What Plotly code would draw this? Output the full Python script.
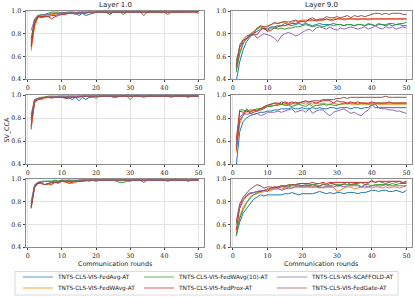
import plotly.graph_objects as go

rounds = list(range(1, 51))

series_names = ["TNTS-CLS-VIS-FedAvg-AT", "TNTS-CLS-VIS-FedWAvg-AT", "TNTS-CLS-VIS-FedWAvg(10)-AT",
                "TNTS-CLS-VIS-FedProx-AT", "TNTS-CLS-VIS-SCAFFOLD-AT", "TNTS-CLS-VIS-FedGate-AT"]
colors = ["#1f77b4", "#ff7f0e", "#2ca02c", "#d62728", "#9467bd", "#8c564b"]
col_titles = ["Layer 1.0", "Layer 9.0"]
x_ticks = [0, 10, 20, 30, 40, 50]
y_ticks = [0.4, 0.6, 0.8, 1.0]

# ---- Layer 1.0, row 1
l1_r1_fedavg = [0.70,0.88,0.95,0.95,0.96,0.97,0.97,0.98,0.98,0.98,0.98,0.985,0.98,0.98,0.96,0.98,0.96,0.97,0.98,0.99,0.99,0.99,0.99,0.97,0.99,0.99,0.99,0.99,0.99,0.99,0.99,0.995,0.99,0.99,0.99,0.995,0.99,0.99,0.995,0.99,0.995,0.99,0.995,0.995,0.99,0.995,0.995,0.995,0.995,0.995]
l1_r1_fedwavg = [0.65,0.86,0.94,0.95,0.95,0.96,0.97,0.97,0.98,0.98,0.98,0.98,0.99,0.98,0.99,0.98,0.99,0.99,0.98,0.99,0.99,0.99,0.99,0.99,0.99,0.99,0.99,0.99,0.99,0.99,0.99,0.99,0.995,0.99,0.99,0.99,0.995,0.99,0.99,0.995,0.99,0.995,0.99,0.995,0.995,0.99,0.995,0.995,0.995,0.995]
l1_r1_fedwavg10 = [0.72,0.90,0.96,0.97,0.97,0.98,0.99,0.99,0.99,0.98,0.99,0.99,0.99,0.99,0.99,0.99,0.99,0.99,0.99,0.99,0.99,0.99,0.99,0.97,0.99,0.99,0.99,0.97,0.99,0.99,0.99,0.99,0.99,0.99,0.995,0.99,0.99,0.99,0.99,0.995,0.99,0.99,0.995,0.99,0.995,0.995,0.99,0.995,0.995,0.995]
l1_r1_fedprox = [0.68,0.89,0.95,0.95,0.95,0.95,0.93,0.95,0.96,0.97,0.97,0.98,0.98,0.98,0.98,0.99,0.98,0.99,0.99,0.99,0.99,0.99,0.99,0.99,0.99,0.99,0.99,0.99,0.99,0.99,0.99,0.99,0.99,0.99,0.99,0.99,0.99,0.99,0.99,0.99,0.99,0.99,0.99,0.99,0.99,0.99,0.99,0.985,0.99,0.98]
l1_r1_scaffold = [0.83,0.92,0.96,0.96,0.97,0.97,0.98,0.98,0.98,0.99,0.98,0.99,0.99,0.98,0.99,0.99,0.99,0.99,0.99,0.99,0.99,0.99,0.99,0.99,0.99,0.99,0.99,0.99,0.99,0.99,0.99,0.99,0.99,0.995,0.99,0.99,0.99,0.995,0.99,0.99,0.995,0.99,0.99,0.995,0.99,0.995,0.995,0.995,0.995,0.995]
l1_r1_fedgate = [0.75,0.93,0.96,0.94,0.95,0.95,0.96,0.96,0.97,0.97,0.98,0.98,0.98,0.97,0.98,0.98,0.98,0.99,0.98,0.99,0.99,0.99,0.99,0.99,0.99,0.99,0.99,0.99,0.99,0.99,0.99,0.99,0.99,0.96,0.99,0.99,0.99,0.99,0.99,0.99,0.97,0.99,0.99,0.99,0.99,0.99,0.99,0.99,0.995,0.995]

# ---- Layer 1.0, row 2
l1_r2_fedavg = [0.70,0.95,0.97,0.97,0.98,0.98,0.98,0.98,0.98,0.98,0.98,0.98,0.96,0.98,0.95,0.98,0.96,0.98,0.98,0.99,0.99,0.99,0.99,0.99,0.99,0.99,0.99,0.99,0.99,0.99,0.99,0.99,0.99,0.99,0.995,0.99,0.99,0.99,0.995,0.99,0.99,0.995,0.99,0.99,0.995,0.99,0.99,0.995,0.99,0.995]
l1_r2_fedwavg = [0.72,0.93,0.96,0.96,0.97,0.98,0.97,0.98,0.98,0.98,0.98,0.99,0.98,0.98,0.99,0.98,0.99,0.99,0.99,0.99,0.99,0.99,0.99,0.99,0.99,0.99,0.99,0.99,0.99,0.99,0.99,0.99,0.99,0.99,0.99,0.995,0.99,0.99,0.99,0.995,0.99,0.99,0.99,0.995,0.99,0.99,0.99,0.99,0.995,0.99]
l1_r2_fedwavg10 = [0.80,0.96,0.97,0.98,0.98,0.99,0.99,0.99,0.99,0.99,0.99,0.99,0.99,0.99,0.99,0.99,0.99,0.98,0.99,0.97,0.99,0.99,0.99,0.99,0.98,0.98,0.99,0.99,0.99,0.96,0.99,0.99,0.99,0.99,0.99,0.99,0.99,0.99,0.99,0.99,0.99,0.99,0.99,0.99,0.99,0.99,0.99,0.99,0.99,0.99]
l1_r2_fedprox = [0.73,0.94,0.96,0.97,0.98,0.98,0.98,0.98,0.98,0.98,0.98,0.98,0.99,0.98,0.99,0.99,0.99,0.99,0.99,0.99,0.99,0.99,0.99,0.99,0.99,0.99,0.99,0.99,0.99,0.99,0.99,0.99,0.99,0.99,0.99,0.99,0.99,0.99,0.99,0.99,0.99,0.99,0.99,0.99,0.99,0.99,0.98,0.99,0.99,0.985]
l1_r2_scaffold = [0.83,0.96,0.97,0.98,0.98,0.98,0.99,0.98,0.99,0.99,0.99,0.99,0.99,0.99,0.99,0.99,0.99,0.99,0.99,0.99,0.99,0.99,0.99,0.99,0.99,0.99,0.99,0.99,0.99,0.99,0.99,0.99,0.99,0.99,0.99,0.99,0.99,0.99,0.99,0.99,0.99,0.99,0.99,0.99,0.99,0.99,0.99,0.99,0.99,0.99]
l1_r2_fedgate = [0.78,0.95,0.97,0.97,0.98,0.98,0.98,0.98,0.98,0.98,0.97,0.97,0.98,0.98,0.98,0.99,0.99,0.99,0.99,0.99,0.99,0.99,0.99,0.99,0.99,0.99,0.99,0.99,0.99,0.99,0.99,0.99,0.99,0.98,0.99,0.99,0.99,0.99,0.99,0.99,0.99,0.98,0.99,0.99,0.99,0.99,0.99,0.99,0.99,0.99]

# ---- Layer 1.0, row 3
l1_r3_fedavg = [0.76,0.93,0.97,0.97,0.98,0.98,0.98,0.98,0.98,0.99,0.98,0.99,0.98,0.98,0.99,0.99,0.99,0.99,0.99,0.98,0.99,0.99,0.99,0.99,0.99,0.99,0.99,0.99,0.99,0.99,0.99,0.99,0.99,0.99,0.99,0.99,0.99,0.99,0.99,0.99,0.99,0.99,0.99,0.99,0.99,0.99,0.99,0.99,0.99,0.99]
l1_r3_fedwavg = [0.75,0.92,0.96,0.96,0.95,0.95,0.96,0.97,0.97,0.98,0.97,0.97,0.96,0.97,0.98,0.98,0.98,0.99,0.99,0.99,0.99,0.99,0.99,0.99,0.99,0.99,0.99,0.99,0.99,0.99,0.99,0.99,0.99,0.99,0.99,0.99,0.99,0.99,0.99,0.99,0.99,0.99,0.99,0.99,0.99,0.99,0.99,0.99,0.99,0.99]
l1_r3_fedwavg10 = [0.78,0.94,0.97,0.98,0.98,0.98,0.98,0.99,0.98,0.99,0.99,0.99,0.99,0.99,0.99,0.99,0.99,0.99,0.99,0.99,0.99,0.99,0.99,0.99,0.99,0.98,0.97,0.97,0.98,0.98,0.99,0.99,0.99,0.99,0.99,0.99,0.99,0.99,0.99,0.99,0.99,0.99,0.99,0.99,0.99,0.99,0.99,0.99,0.99,0.99]
l1_r3_fedprox = [0.75,0.93,0.96,0.96,0.95,0.96,0.95,0.97,0.97,0.98,0.98,0.96,0.97,0.98,0.98,0.98,0.99,0.99,0.99,0.99,0.99,0.99,0.99,0.99,0.99,0.99,0.99,0.99,0.99,0.99,0.99,0.99,0.99,0.99,0.99,0.99,0.99,0.99,0.99,0.99,0.99,0.99,0.99,0.99,0.99,0.99,0.98,0.99,0.99,0.99]
l1_r3_scaffold = [0.80,0.95,0.97,0.96,0.95,0.96,0.97,0.97,0.96,0.98,0.98,0.98,0.98,0.98,0.99,0.99,0.99,0.99,0.99,0.99,0.99,0.99,0.99,0.99,0.99,0.99,0.99,0.99,0.99,0.99,0.99,0.99,0.99,0.99,0.99,0.99,0.99,0.99,0.99,0.99,0.99,0.99,0.99,0.99,0.99,0.99,0.99,0.99,0.99,0.99]
l1_r3_fedgate = [0.74,0.93,0.97,0.97,0.95,0.96,0.97,0.97,0.98,0.98,0.98,0.98,0.98,0.98,0.98,0.99,0.99,0.98,0.99,0.99,0.99,0.99,0.99,0.99,0.99,0.99,0.99,0.99,0.99,0.99,0.99,0.99,0.99,0.97,0.99,0.99,0.99,0.99,0.99,0.99,0.98,0.99,0.99,0.99,0.99,0.99,0.99,0.99,0.99,0.99]

# ---- Layer 9.0, row 1
l9_r1_fedavg = [0.38,0.55,0.66,0.73,0.77,0.80,0.82,0.84,0.85,0.84,0.86,0.86,0.87,0.87,0.89,0.88,0.87,0.88,0.89,0.88,0.89,0.88,0.87,0.88,0.89,0.88,0.88,0.88,0.89,0.88,0.88,0.87,0.88,0.88,0.87,0.88,0.88,0.87,0.88,0.88,0.87,0.88,0.88,0.87,0.88,0.87,0.88,0.88,0.87,0.87]
l9_r1_fedwavg = [0.48,0.64,0.72,0.76,0.80,0.82,0.84,0.86,0.86,0.87,0.88,0.89,0.89,0.90,0.90,0.91,0.90,0.91,0.91,0.92,0.92,0.92,0.92,0.91,0.92,0.92,0.93,0.92,0.93,0.93,0.93,0.92,0.93,0.93,0.93,0.92,0.93,0.93,0.92,0.93,0.93,0.93,0.93,0.93,0.93,0.93,0.93,0.93,0.93,0.93]
l9_r1_fedwavg10 = [0.46,0.62,0.71,0.76,0.79,0.81,0.84,0.86,0.84,0.83,0.85,0.85,0.84,0.85,0.84,0.85,0.85,0.86,0.86,0.87,0.88,0.87,0.86,0.87,0.87,0.86,0.87,0.88,0.87,0.88,0.88,0.87,0.88,0.88,0.87,0.88,0.88,0.87,0.89,0.88,0.87,0.89,0.88,0.88,0.89,0.89,0.88,0.89,0.89,0.90]
l9_r1_fedprox = [0.52,0.68,0.74,0.76,0.78,0.79,0.79,0.83,0.85,0.82,0.83,0.85,0.86,0.87,0.87,0.88,0.89,0.89,0.90,0.91,0.91,0.92,0.92,0.92,0.92,0.92,0.93,0.92,0.92,0.93,0.93,0.93,0.93,0.93,0.93,0.93,0.93,0.93,0.93,0.93,0.93,0.93,0.93,0.93,0.93,0.93,0.93,0.93,0.93,0.93]
l9_r1_scaffold = [0.56,0.68,0.72,0.75,0.78,0.80,0.76,0.78,0.80,0.79,0.78,0.76,0.73,0.78,0.80,0.81,0.80,0.78,0.79,0.81,0.83,0.84,0.82,0.85,0.86,0.85,0.84,0.86,0.84,0.83,0.85,0.84,0.85,0.86,0.85,0.84,0.85,0.86,0.84,0.85,0.87,0.85,0.84,0.86,0.85,0.86,0.84,0.85,0.86,0.85]
l9_r1_fedgate = [0.50,0.70,0.75,0.78,0.79,0.80,0.85,0.87,0.86,0.86,0.88,0.90,0.89,0.90,0.91,0.89,0.91,0.92,0.91,0.91,0.90,0.93,0.94,0.92,0.93,0.93,0.95,0.94,0.94,0.95,0.94,0.95,0.96,0.94,0.96,0.95,0.96,0.95,0.96,0.97,0.98,0.98,0.97,0.98,0.97,0.98,0.98,0.98,0.97,0.97]

# ---- Layer 9.0, row 2
l9_r2_fedavg = [0.38,0.68,0.77,0.80,0.82,0.83,0.84,0.85,0.85,0.86,0.86,0.87,0.87,0.88,0.88,0.88,0.89,0.88,0.88,0.89,0.88,0.88,0.89,0.88,0.89,0.88,0.88,0.89,0.89,0.88,0.89,0.89,0.89,0.88,0.89,0.89,0.88,0.89,0.89,0.92,0.89,0.89,0.89,0.89,0.89,0.89,0.89,0.89,0.89,0.89]
l9_r2_fedwavg = [0.50,0.75,0.83,0.85,0.86,0.86,0.87,0.88,0.89,0.90,0.91,0.91,0.92,0.92,0.92,0.92,0.93,0.92,0.93,0.93,0.92,0.93,0.92,0.93,0.92,0.93,0.92,0.92,0.93,0.92,0.92,0.92,0.93,0.92,0.92,0.92,0.92,0.92,0.92,0.92,0.92,0.92,0.92,0.92,0.92,0.92,0.92,0.92,0.92,0.92]
l9_r2_fedwavg10 = [0.55,0.87,0.87,0.86,0.87,0.87,0.88,0.88,0.89,0.90,0.90,0.91,0.91,0.92,0.91,0.91,0.90,0.91,0.92,0.91,0.90,0.92,0.90,0.91,0.91,0.92,0.91,0.92,0.91,0.91,0.92,0.93,0.92,0.93,0.93,0.92,0.93,0.93,0.92,0.93,0.93,0.93,0.93,0.93,0.93,0.93,0.93,0.93,0.93,0.93]
l9_r2_fedprox = [0.61,0.86,0.85,0.86,0.85,0.87,0.86,0.88,0.90,0.91,0.92,0.93,0.93,0.92,0.94,0.93,0.94,0.93,0.93,0.94,0.95,0.94,0.94,0.93,0.94,0.95,0.95,0.95,0.93,0.95,0.94,0.94,0.93,0.94,0.93,0.94,0.93,0.93,0.93,0.94,0.93,0.93,0.93,0.93,0.94,0.93,0.93,0.93,0.93,0.93]
l9_r2_scaffold = [0.56,0.80,0.84,0.83,0.84,0.83,0.84,0.82,0.83,0.85,0.85,0.85,0.86,0.85,0.86,0.87,0.88,0.85,0.86,0.87,0.85,0.88,0.84,0.86,0.87,0.87,0.84,0.82,0.85,0.86,0.87,0.88,0.86,0.84,0.85,0.83,0.82,0.85,0.87,0.91,0.92,0.89,0.88,0.88,0.87,0.87,0.86,0.86,0.85,0.84]
l9_r2_fedgate = [0.52,0.78,0.82,0.88,0.84,0.85,0.86,0.87,0.88,0.91,0.92,0.93,0.92,0.94,0.93,0.92,0.92,0.94,0.93,0.94,0.94,0.94,0.95,0.95,0.95,0.96,0.96,0.96,0.96,0.97,0.97,0.98,0.97,0.98,0.98,0.98,0.98,0.98,0.98,0.98,0.98,0.98,0.98,0.99,0.98,0.98,0.98,0.98,0.98,0.98]

# ---- Layer 9.0, row 3
l9_r3_fedavg = [0.50,0.62,0.70,0.74,0.79,0.82,0.84,0.86,0.85,0.86,0.86,0.86,0.86,0.86,0.87,0.87,0.88,0.87,0.86,0.87,0.87,0.87,0.87,0.88,0.89,0.88,0.87,0.88,0.87,0.88,0.88,0.87,0.88,0.88,0.88,0.87,0.88,0.88,0.89,0.90,0.90,0.89,0.90,0.90,0.89,0.89,0.90,0.89,0.88,0.90]
l9_r3_fedwavg = [0.53,0.67,0.75,0.80,0.84,0.86,0.87,0.88,0.89,0.90,0.90,0.91,0.91,0.91,0.92,0.92,0.92,0.93,0.93,0.93,0.93,0.93,0.93,0.93,0.93,0.92,0.93,0.93,0.93,0.89,0.90,0.92,0.93,0.93,0.91,0.92,0.93,0.92,0.93,0.92,0.93,0.93,0.92,0.93,0.92,0.93,0.93,0.92,0.93,0.94]
l9_r3_fedwavg10 = [0.50,0.65,0.73,0.79,0.83,0.86,0.88,0.89,0.90,0.91,0.92,0.93,0.92,0.93,0.93,0.93,0.94,0.94,0.94,0.94,0.94,0.95,0.95,0.95,0.94,0.95,0.95,0.94,0.95,0.95,0.95,0.95,0.95,0.95,0.95,0.95,0.93,0.95,0.95,0.94,0.95,0.95,0.95,0.95,0.95,0.96,0.95,0.96,0.96,0.96]
l9_r3_fedprox = [0.55,0.74,0.81,0.85,0.87,0.88,0.89,0.89,0.90,0.89,0.92,0.93,0.93,0.94,0.94,0.94,0.95,0.95,0.96,0.96,0.96,0.96,0.97,0.96,0.96,0.97,0.96,0.97,0.97,0.97,0.97,0.97,0.97,0.97,0.97,0.97,0.97,0.97,0.97,0.98,0.97,0.98,0.98,0.98,0.98,0.98,0.98,0.98,0.97,0.98]
l9_r3_scaffold = [0.60,0.76,0.82,0.86,0.88,0.88,0.89,0.90,0.90,0.91,0.91,0.92,0.92,0.90,0.91,0.92,0.92,0.93,0.93,0.93,0.93,0.93,0.93,0.93,0.92,0.93,0.93,0.93,0.93,0.94,0.94,0.93,0.94,0.94,0.94,0.94,0.93,0.94,0.93,0.94,0.94,0.94,0.94,0.95,0.94,0.94,0.94,0.94,0.94,0.94]
l9_r3_fedgate = [0.62,0.78,0.84,0.88,0.91,0.93,0.95,0.94,0.92,0.93,0.93,0.92,0.93,0.94,0.93,0.95,0.95,0.95,0.95,0.94,0.95,0.94,0.95,0.94,0.93,0.96,0.94,0.96,0.96,0.94,0.94,0.96,0.97,0.95,0.96,0.96,0.97,0.95,0.96,0.99,0.97,0.98,0.97,0.96,0.97,0.98,0.97,0.98,0.96,0.97]

panels = [
    [[l1_r1_fedavg, l1_r1_fedwavg, l1_r1_fedwavg10, l1_r1_fedprox, l1_r1_scaffold, l1_r1_fedgate],
     [l9_r1_fedavg, l9_r1_fedwavg, l9_r1_fedwavg10, l9_r1_fedprox, l9_r1_scaffold, l9_r1_fedgate]],
    [[l1_r2_fedavg, l1_r2_fedwavg, l1_r2_fedwavg10, l1_r2_fedprox, l1_r2_scaffold, l1_r2_fedgate],
     [l9_r2_fedavg, l9_r2_fedwavg, l9_r2_fedwavg10, l9_r2_fedprox, l9_r2_scaffold, l9_r2_fedgate]],
    [[l1_r3_fedavg, l1_r3_fedwavg, l1_r3_fedwavg10, l1_r3_fedprox, l1_r3_scaffold, l1_r3_fedgate],
     [l9_r3_fedavg, l9_r3_fedwavg, l9_r3_fedwavg10, l9_r3_fedprox, l9_r3_scaffold, l9_r3_fedgate]],
]

W, H = 415, 297
def px(xp):
    return xp / W
def py(yp):
    return 1 - yp / H

x_dom = [[px(26), px(204)], [px(231), px(412)]]
y_dom = [[py(79), py(11)], [py(164), py(95)], [py(247), py(179)]]

fig = go.Figure(layout=dict(template="none"))
tick_font = dict(family="DejaVu Serif", size=6.3, color="#222")
sans = "DejaVu Sans"

for r in range(3):
    for c in range(2):
        idx = r * 2 + c + 1
        xa = "x" if idx == 1 else f"x{idx}"
        ya = "y" if idx == 1 else f"y{idx}"
        for s in range(6):
            fig.add_trace(go.Scatter(x=rounds, y=panels[r][c][s], mode="lines",
                                     line=dict(color=colors[s], width=1),
                                     xaxis=xa, yaxis=ya, showlegend=False,
                                     hoverinfo="skip"))
        axis_common = dict(showline=True, mirror=True, linecolor="#8c8c8c", linewidth=0.8,
                           showgrid=True, gridcolor="#e3e3e3", gridwidth=0.7,
                           ticks="outside", ticklen=2.5, tickwidth=0.7, tickcolor="#444",
                           tickfont=tick_font, zeroline=False, automargin=False)
        fig.layout[f"xaxis{'' if idx == 1 else idx}"] = dict(
            domain=x_dom[c], anchor=ya, range=[-0.5, 51.6], tickvals=x_ticks,
            ticktext=[str(v) for v in x_ticks], **axis_common)
        fig.layout[f"yaxis{'' if idx == 1 else idx}"] = dict(
            domain=y_dom[r], anchor=xa, range=[0.4, 1.0], tickvals=y_ticks,
            ticktext=[f"{v:.1f}" for v in y_ticks], **axis_common)

# legend: 3 columns x 2 rows, one single-entry legend per slot
legend_slots = [  # (series index, item-left px, row-center px)
    (0, 18, 277), (1, 18, 288),
    (2, 139, 277), (3, 139, 288),
    (4, 272, 277), (5, 272, 288),
]
legend_layouts = {}
for k, (s, xl, yc) in enumerate(legend_slots):
    lid = "legend" if k == 0 else f"legend{k + 1}"
    fig.add_trace(go.Scatter(x=[None], y=[None], mode="lines", name=series_names[s],
                             line=dict(color=colors[s], width=1.5), opacity=0.5,
                             showlegend=True, legend=lid, hoverinfo="skip"))
    legend_layouts[lid] = dict(x=px(xl), xanchor="left", y=py(yc), yanchor="middle",
                               font=dict(family=sans, size=5.8, color="#222"),
                               bgcolor="rgba(0,0,0,0)", borderwidth=0, itemwidth=30)

annotations = []
for c in range(2):
    annotations.append(dict(text=col_titles[c], x=sum(x_dom[c]) / 2, y=py(5), xref="paper", yref="paper",
                            showarrow=False, font=dict(family=sans, size=7, color="#222"),
                            xanchor="center", yanchor="middle"))
    annotations.append(dict(text="Communication rounds", x=sum(x_dom[c]) / 2, y=py(264),
                            xref="paper", yref="paper", showarrow=False,
                            font=dict(family=sans, size=6.4, color="#222"),
                            xanchor="center", yanchor="middle"))
annotations.append(dict(text="SV_CCA", x=px(6), y=sum(y_dom[1]) / 2, xref="paper", yref="paper",
                        showarrow=False, textangle=-90, font=dict(family=sans, size=6.4, color="#222"),
                        xanchor="center", yanchor="middle"))

legend_frame = dict(type="rect", xref="paper", yref="paper", x0=px(15), x1=px(398), y0=py(295), y1=py(271.5),
                    line=dict(color="#d0d0d0", width=0.8), fillcolor="rgba(255,255,255,0)", layer="below")

fig.update_layout(
    width=W, height=H, margin=dict(l=0, r=0, t=0, b=0, pad=0, autoexpand=False),
    paper_bgcolor="white", plot_bgcolor="white",
    annotations=annotations, shapes=[legend_frame],
    showlegend=True,
    **legend_layouts,
)

fig.write_html("out.html", config={"displayModeBar": False},
               post_script="document.body.style.margin='0';")
